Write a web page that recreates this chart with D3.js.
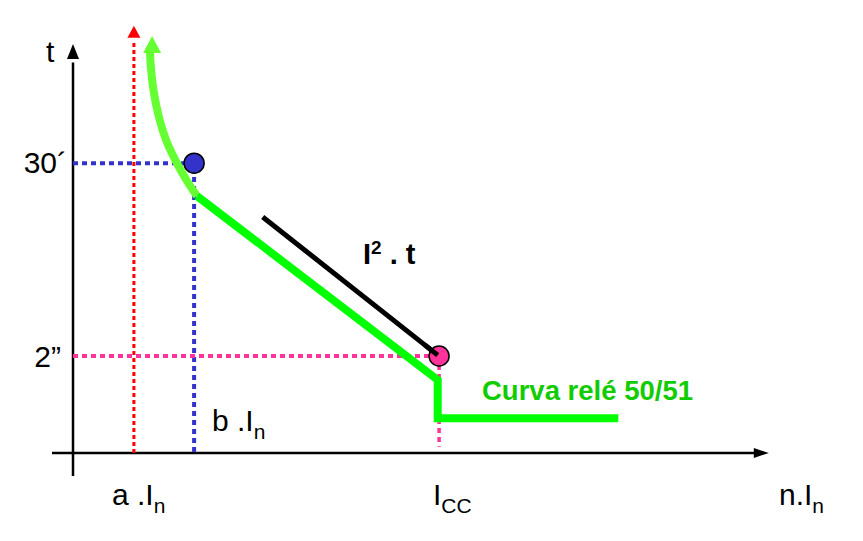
<!DOCTYPE html>
<html><head><meta charset="utf-8">
<script src="https://cdn.jsdelivr.net/npm/d3@7"></script>
<style>body{margin:0;background:#fff}svg{display:block}text{font-family:"Liberation Sans",Arial,sans-serif}</style>
</head><body><div id="c"></div>
<script>
// Abstract units: current (x, 0..100) and time (y, 0..100)
const xMarks = {a: 8.7, b: 17.3, icc: 52.3};
const yMarks = {t30: 69.0, t2: 23.1};
const relayCurve = [[11.0,95.5],[11.1,92.4],[11.5,86.4],[12.2,80.5],[13.3,74.5],[14.6,69.8],[16.2,65.0],[17.7,61.2]];
const relayLine = [[17.7,61.2],[52.1,17.4],[52.1,8.3],[77.9,8.3]];
const i2tLine = [[27.1,56.2],[52.1,23.3]];
const tickLabelsY = ["30´","2”"];
const labelCurve = "Curva relé 50/51";

const W=863,H=541;
const x=d3.scaleLinear().domain([0,100]).range([73,773]);
const y=d3.scaleLinear().domain([0,100]).range([453,33]);
const svg=d3.select("#c").append("svg").attr("width",W).attr("height",H);
const line=d3.line().x(d=>x(d[0])).y(d=>y(d[1]));

function tri(tx,ty,dir,hw,len,color){
  let p;
  if(dir==="up") p=[[tx,ty],[tx-hw,ty+len],[tx+hw,ty+len]];
  else p=[[tx,ty],[tx-len,ty-hw],[tx-len,ty+hw]];
  svg.append("path").attr("d","M"+p.map(q=>q.join(",")).join("L")+"Z").attr("fill",color);
}

// axes
svg.append("line").attr("x1",x(0)).attr("x2",x(0)).attr("y1",y(-5.5)).attr("y2",y(93)).attr("stroke","#000").attr("stroke-width",2.5);
tri(x(0),y(97.4),"up",6,15,"#000");
svg.append("line").attr("x1",x(-3)).attr("x2",x(97.5)).attr("y1",y(0)).attr("y2",y(0)).attr("stroke","#000").attr("stroke-width",2.5);
tri(x(99.4),y(0),"right",5,15,"#000");

// red dotted vertical a.In
svg.append("line").attr("x1",x(xMarks.a)).attr("x2",x(xMarks.a)).attr("y1",y(0)).attr("y2",y(98)).attr("stroke","#ff0000").attr("stroke-width",3).attr("stroke-dasharray","4,3");
tri(x(xMarks.a),y(101.7),"up",6.5,12,"#ff0000");

// blue dotted
svg.append("path").attr("d",line([[0,yMarks.t30],[xMarks.b,yMarks.t30],[xMarks.b,0]])).attr("fill","none").attr("stroke","#3333cc").attr("stroke-width",4).attr("stroke-dasharray","5,4");
// pink dotted
svg.append("path").attr("d",line([[0,yMarks.t2],[xMarks.icc,yMarks.t2]])).attr("fill","none").attr("stroke","#ff3399").attr("stroke-width",4).attr("stroke-dasharray","5,4");
svg.append("path").attr("d",line([[xMarks.icc,yMarks.t2],[xMarks.icc,1.5]])).attr("fill","none").attr("stroke","#ff3399").attr("stroke-width",3.5).attr("stroke-dasharray","5,4");

// green relay curve
svg.append("path").attr("d",d3.line().x(d=>x(d[0])).y(d=>y(d[1])).curve(d3.curveCatmullRom)(relayCurve)).attr("fill","none").attr("stroke","#66ff33").attr("stroke-width",8);
tri(x(11.3),y(99.3),"up",9,17,"#66ff33");
svg.append("path").attr("d",line(relayLine)).attr("fill","none").attr("stroke","#00ff00").attr("stroke-width",8).attr("stroke-linejoin","miter");

// I2t black line
svg.append("path").attr("d",line(i2tLine)).attr("stroke","#000").attr("stroke-width",5);

// dots
svg.append("circle").attr("cx",x(xMarks.b)).attr("cy",y(yMarks.t30)).attr("r",10).attr("fill","#3333cc").attr("stroke","#000").attr("stroke-width",1.5);
svg.append("circle").attr("cx",x(xMarks.icc)).attr("cy",y(yMarks.t2)).attr("r",10).attr("fill","#ff3399").attr("stroke","#000").attr("stroke-width",1.5);
svg.append("path").attr("d",line([[50.2,25.8],[52.1,23.3]])).attr("stroke","#000").attr("stroke-width",5);

// text
const fs=30;
svg.append("text").attr("x",46).attr("y",62).attr("font-size",fs).text("t");
svg.append("text").attr("x",67).attr("y",y(yMarks.t30)+10).attr("text-anchor","end").attr("font-size",fs).text(tickLabelsY[0]);
svg.append("text").attr("x",61).attr("y",y(yMarks.t2)+11).attr("text-anchor","end").attr("font-size",fs).text(tickLabelsY[1]);

function sub(tx,ty,main,s){
  const t=svg.append("text").attr("x",tx).attr("y",ty).attr("font-size",fs);
  t.append("tspan").text(main);
  t.append("tspan").attr("font-size",21).attr("dy",8).text(s);
}
sub(112,505,"a .I","n");
sub(212,431,"b .I","n");
sub(433,505,"I","CC");
sub(779,505,"n.I","n");

const it=svg.append("text").attr("x",363).attr("y",264).attr("font-size",29).attr("font-weight","bold");
it.append("tspan").text("I");
it.append("tspan").attr("font-size",19).attr("dy",-10).text("2");
it.append("tspan").attr("dy",10).text(" . t");

svg.append("text").attr("x",482).attr("y",400).attr("font-size",27.5).attr("font-weight","bold").attr("fill","#11cc00").text(labelCurve);
</script></body></html>
